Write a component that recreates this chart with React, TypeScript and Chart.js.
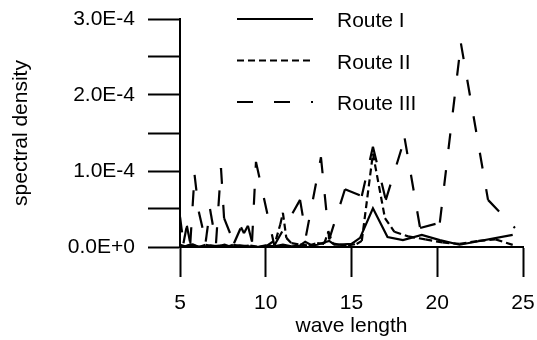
import React, { useEffect, useRef } from 'react';
import { Chart, registerables } from 'chart.js';

Chart.register(...registerables);

// Route I (solid)
const routeIX = [5.0, 5.3, 5.6, 6.0, 6.4, 6.8, 7.2, 7.6, 8.0, 8.5, 9.0, 9.5, 10.0, 10.5, 11.0, 11.5, 12.0, 12.3, 12.7, 13.0, 13.4, 13.7, 14.0, 14.3, 15.0, 15.5, 16.25, 17.1, 18.0, 19.1, 20.15, 21.3, 24.4];
const routeIY = [2e-6, 0, 3e-6, 1e-6, 0, 2e-6, 1e-6, 3e-6, 0, 2e-6, 1e-6, 0, 2e-6, 1e-6, 3e-6, 1e-6, 2e-6, 7e-6, 2e-6, 3e-6, 6e-6, 8e-6, 3e-6, 3e-6, 4e-6, 1.2e-5, 5.1e-5, 1.3e-5, 9e-6, 1.6e-5, 9e-6, 3e-6, 1.6e-5];

// Route II (short dashes)
const routeIIX = [5.0, 5.3, 5.7, 6.1, 6.5, 6.9, 7.3, 7.7, 8.1, 8.6, 9.1, 9.6, 10.1, 10.6, 10.85, 11.0, 11.2, 11.5, 12.0, 12.5, 13.0, 13.4, 13.65, 13.9, 14.3, 14.8, 15.3, 15.6, 16.25, 16.95, 17.5, 18.3, 19.3, 20.3, 21.3, 22.4, 23.4, 24.5];
const routeIIY = [3e-6, 1e-6, 4e-6, 0, 3e-6, 1e-6, 2e-6, 0, 3e-6, 1e-6, 2e-6, 0, 2e-6, 1e-5, 3e-5, 4.5e-5, 1.2e-5, 5e-6, 3e-6, 2e-6, 5e-6, 4e-6, 2e-5, 5e-6, 3e-6, 2e-6, 4e-6, 8e-6, 1.23e-4, 3.8e-5, 2e-5, 1.4e-5, 1e-5, 6e-6, 4e-6, 8e-6, 1e-5, 2e-6];

// Route III (long dashes)
const routeIIIX = [5.0, 5.2, 5.4, 5.6, 5.85, 6.1, 6.5, 6.75, 7.1, 7.39, 7.57, 8.15, 8.56, 8.73, 8.96, 9.2, 9.43, 10.5, 12.0, 12.35, 13.22, 13.7, 14.62, 15.6, 16.25, 17.0, 18.1, 19.0, 20.15, 21.38, 22.96, 24.53];
const routeIIIY = [4.0e-5, 5e-6, 2.8e-5, 5e-6, 9.5e-5, 4.6e-5, 7e-6, 5.0e-5, 5e-6, 1.04e-4, 3.8e-5, 5e-6, 2.6e-5, 1.8e-5, 2.8e-5, 7e-6, 1.12e-4, 2e-6, 6.2e-5, 1.5e-5, 1.18e-4, 1.0e-5, 7.6e-5, 6.7e-5, 1.32e-4, 6.2e-5, 1.43e-4, 2.5e-5, 3.2e-5, 2.68e-4, 6.2e-5, 2.5e-5];

const seriesNames = ['Route I', 'Route II', 'Route III'];
const xTickValues = [5, 10, 15, 20, 25];
const yTickValues = [0, 5e-5, 1e-4, 1.5e-4, 2e-4, 2.5e-4, 3e-4];
const yTickLabels = ['0.0E+0', '', '1.0E-4', '', '2.0E-4', '', '3.0E-4'];

const FONT = "'Liberation Sans', Arial, Helvetica, sans-serif";
const FS = 21;

export default function App() {
  const ref = useRef<HTMLCanvasElement>(null);

  useEffect(() => {
    if (!ref.current) return;
    const toPts = (xs: number[], ys: number[]) => xs.map((x, i) => ({ x, y: ys[i] }));

    const legendPlugin = {
      id: 'routeLegend',
      afterDraw(chart: any) {
        const ctx = chart.ctx;
        const left = chart.chartArea.left;
        const top = chart.chartArea.top;
        chart.data.datasets.forEach((ds: any, i: number) => {
          const y = top + i * 41.5;
          ctx.save();
          ctx.strokeStyle = '#000';
          ctx.lineWidth = ds.borderWidth;
          ctx.setLineDash(ds.borderDash || []);
          ctx.beginPath();
          ctx.moveTo(left + 57, y);
          ctx.lineTo(left + 133, y);
          ctx.stroke();
          ctx.setLineDash([]);
          ctx.fillStyle = '#000';
          ctx.font = `${FS}px ${FONT}`;
          ctx.textBaseline = 'alphabetic';
          ctx.textAlign = 'left';
          ctx.fillText(ds.label, left + 157, y + 8);
          ctx.restore();
        });
      },
    };

    // restart the dash pattern at every vertex (each segment stroked on its own)
    const segmentRestart = { borderDashOffset: (c: any) => (c.p0DataIndex % 2) * 0.001 };

    const chart = new Chart(ref.current, {
      type: 'line',
      data: {
        datasets: [
          { label: seriesNames[0], data: toPts(routeIX, routeIY), borderColor: '#000', borderWidth: 2.2, borderDash: [], pointRadius: 0, tension: 0, fill: false },
          { label: seriesNames[1], data: toPts(routeIIX, routeIIY), borderColor: '#000', borderWidth: 2.2, borderDash: [7, 4], pointRadius: 0, tension: 0, fill: false, segment: segmentRestart },
          { label: seriesNames[2], data: toPts(routeIIIX, routeIIIY), borderColor: '#000', borderWidth: 2.2, borderDash: [16, 21], pointRadius: 0, tension: 0, fill: false, segment: segmentRestart },
        ],
      },
      options: {
        responsive: true,
        maintainAspectRatio: false,
        animation: false,
        layout: { padding: { top: 19, right: 14, left: 0, bottom: 0 } },
        plugins: { legend: { display: false }, tooltip: { enabled: false } },
        scales: {
          x: {
            type: 'linear',
            min: 5,
            max: 25,
            afterBuildTicks: (axis: any) => { axis.ticks = xTickValues.map((v) => ({ value: v })); },
            afterFit: (axis: any) => { axis.height = 93; axis.paddingLeft = 0; axis.paddingRight = 0; },
            ticks: { color: '#000', font: { size: FS, family: FONT }, padding: 14, maxRotation: 0, autoSkip: false },
            grid: { drawOnChartArea: false, drawTicks: true, tickLength: 30, tickWidth: 2, tickColor: '#000' },
            border: { display: true, color: '#000', width: 2 },
            title: { display: true, text: 'wave length', color: '#000', font: { size: FS, family: FONT }, padding: { top: 0, bottom: 1 } },
          },
          y: {
            type: 'linear',
            min: 0,
            max: 3e-4,
            afterBuildTicks: (axis: any) => { axis.ticks = yTickValues.map((v) => ({ value: v })); },
            afterFit: (axis: any) => { axis.width = 180; axis.paddingTop = 0; axis.paddingBottom = 0; },
            ticks: { color: '#000', font: { size: FS, family: FONT }, padding: 13, autoSkip: false, callback: (_v: any, i: number) => yTickLabels[i] },
            grid: { drawOnChartArea: false, drawTicks: true, tickLength: 32, tickWidth: 2, tickColor: '#000' },
            border: { display: true, color: '#000', width: 2 },
            title: { display: true, text: 'spectral density', color: '#000', font: { size: FS, family: FONT }, padding: { top: 9, bottom: 0 } },
          },
        },
      },
      plugins: [legendPlugin],
    } as any);

    return () => chart.destroy();
  }, []);

  return (
    <div style={{ position: 'absolute', left: 0, top: 0, width: 537, height: 340, background: '#fff' }}>
      <canvas ref={ref} />
    </div>
  );
}
